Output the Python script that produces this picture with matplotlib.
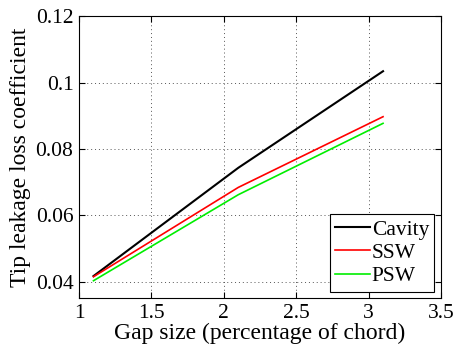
import numpy as np
import matplotlib
matplotlib.use("Agg")
import matplotlib.pyplot as plt

plt.rcParams['font.family'] = ['Liberation Serif', 'DejaVu Serif']

gap = [1.1, 2.1, 3.1]
cavity = [0.0417, 0.0743, 0.1034]
ssw = [0.0415, 0.0684, 0.0897]
psw = [0.0403, 0.0662, 0.0877]

xticks = [1, 1.5, 2, 2.5, 3, 3.5]
yticks = [0.04, 0.06, 0.08, 0.1, 0.12]
ytick_labels = ['0.04', '0.06', '0.08', '0.1', '0.12']

fig = plt.figure(figsize=(4.53, 3.5), dpi=100)
ax = fig.add_axes([0.1744, 0.1486, 0.799, 0.8054])

ax.plot(gap, cavity, color='black', lw=1.5, label='Cavity')
ax.plot(gap, ssw, color='red', lw=1.2, label='SSW')
ax.plot(gap, psw, color='#00ee00', lw=1.2, label='PSW')

ax.set_xlim(1, 3.5)
ax.set_ylim(0.0351, 0.12)
ax.set_xticks(xticks)
ax.set_xticklabels([str(t) for t in xticks])
ax.set_yticks(yticks)
ax.set_yticklabels(ytick_labels)
ax.tick_params(direction='in', top=True, right=True, labelsize=15.5, length=4, pad=4)
ax.grid(True, linestyle=(0, (1, 3)), color='#555555', lw=0.7)

ax.set_xlabel('Gap size (percentage of chord)', fontsize=17, labelpad=0)
ax.set_ylabel('Tip leakage loss coefficient', fontsize=17, labelpad=3)

leg = ax.legend(loc='lower right', fontsize=15.5, fancybox=False, framealpha=1,
                edgecolor='black', borderpad=0.25, handlelength=1.6,
                handletextpad=0.1, labelspacing=0.15, borderaxespad=0.3)
leg.get_frame().set_linewidth(0.8)

fig.savefig('out.png', dpi=100)
